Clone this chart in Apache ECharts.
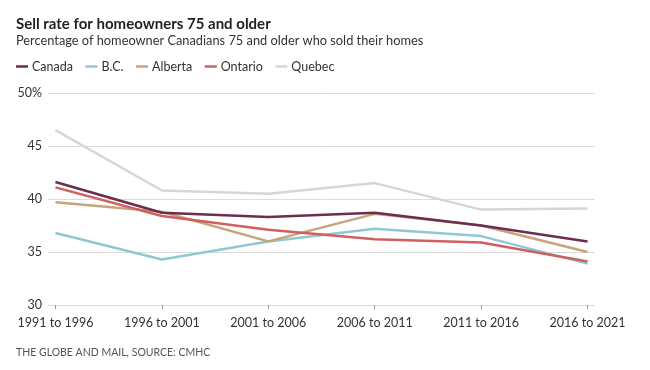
<!DOCTYPE html>
<html>
<head>
<meta charset="utf-8">
<script src="https://cdn.jsdelivr.net/npm/echarts@6/dist/echarts.min.js"></script>
<style>
html,body{margin:0;padding:0;background:#fff;}
#chart{width:650px;height:370px;}
</style>
</head>
<body>
<div id="chart"></div>
<script>
var categories = ['1991 to 1996','1996 to 2001','2001 to 2006','2006 to 2011','2011 to 2016','2016 to 2021'];
var canada  = [41.6, 38.7, 38.3, 38.7, 37.5, 36.0];
var bc      = [36.8, 34.3, 36.0, 37.2, 36.5, 33.9];
var alberta = [39.7, 38.8, 36.0, 38.6, 37.5, 35.0];
var ontario = [41.1, 38.4, 37.1, 36.2, 35.9, 34.1];
var quebec  = [46.5, 40.8, 40.5, 41.5, 39.0, 39.1];
var yTicks = [30, 35, 40, 45, 50];

var FONT = 'Lato, "Noto Sans", sans-serif';
function pairs(arr){ return arr.map(function(v,i){ return [i, v]; }); }
var idx = categories.map(function(c,i){ return i; });

var chart = echarts.init(document.getElementById('chart'), null, {renderer:'canvas'});
function mk(name, data, color, z){
  return {name:name, type:'line', data:pairs(data), symbol:'none', z:z,
    lineStyle:{width:2.5, color:color}, itemStyle:{color:color}};
}
chart.setOption({
  animation:false,
  backgroundColor:'#fff',
  title:{
    left:16, top:17, padding:0,
    text:'Sell rate for homeowners 75 and older',
    subtext:'Percentage of homeowner Canadians 75 and older who sold their homes',
    itemGap:2,
    textStyle:{fontFamily:FONT, fontSize:15, fontWeight:'bold', color:'#222'},
    subtextStyle:{fontFamily:FONT, fontSize:12.8, color:'#333'}
  },
  legend:{
    left:16, top:60, padding:0,
    icon:'rect', itemWidth:12, itemHeight:2.5, itemGap:12.5,
    textStyle:{fontFamily:FONT, fontSize:12.5, color:'#333', padding:[0,0,0,-1]},
    data:['Canada','B.C.','Alberta','Ontario','Quebec']
  },
  grid:{left:48, right:55, top:93, bottom:65},
  xAxis:{
    type:'value', min:-0.07, max:5.07,
    axisLine:{show:false},
    splitLine:{show:false},
    axisTick:{show:true, length:4, customValues:idx, lineStyle:{color:'#999'}},
    axisLabel:{customValues:idx, margin:11, fontFamily:FONT, fontSize:12.5, color:'#333',
      formatter:function(v){ return categories[Math.round(v)]; }}
  },
  yAxis:{
    type:'value', min:yTicks[0], max:yTicks[yTicks.length-1], interval:5,
    axisLine:{show:false}, axisTick:{show:false},
    splitLine:{lineStyle:{color:'#dcdcdc', width:1}},
    axisLabel:{margin:6, fontFamily:FONT, fontSize:12.5, color:'#333',
      formatter:function(v){ return v===50 ? '50%' : String(v); }}
  },
  series:[
    mk('Canada', canada, '#6d2d4e', 6),
    mk('B.C.', bc, '#8fc8d5', 3),
    mk('Alberta', alberta, '#c8a47c', 4),
    mk('Ontario', ontario, '#d0605f', 5),
    mk('Quebec', quebec, '#d6d6d6', 2)
  ],
  graphic:[{
    type:'text', left:16, top:347,
    style:{text:'THE GLOBE AND MAIL, SOURCE: CMHC', font:'10.5px '+FONT, fill:'#555', letterSpacing:0.8}
  }]
});
</script>
</body>
</html>
